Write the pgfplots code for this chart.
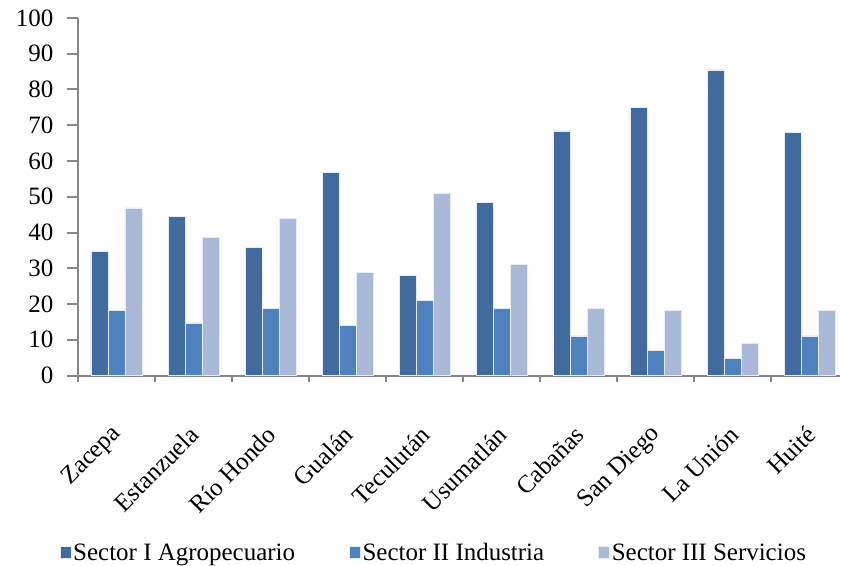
\documentclass[border=0pt]{standalone}
\usepackage{fontspec}
\setmainfont{Liberation Serif}
\usepackage{pgfplots}
\pgfplotsset{compat=1.18}

\definecolor{sectorI}{HTML}{416A9E}
\definecolor{sectorII}{HTML}{4F81BD}
\definecolor{sectorIII}{HTML}{AAB9D8}
\definecolor{axisgray}{HTML}{878787}

\begin{document}
\begin{tikzpicture}[font=\fontsize{25}{29}\selectfont]
\begin{axis}[
    scale only axis=true,
    width=763pt,
    height=358pt,
    ybar=0pt,
    bar width=17pt,
    ymin=0, ymax=100,
    ytick={0,10,...,100},
    xmin=-0.5, xmax=9.39,
    xtick={0,...,9},
    xticklabels={Zacepa, Estanzuela, Río Hondo, Gualán, Teculután, Usumatlán, Cabañas, San Diego, La Unión, Huité},
    minor xtick={-0.5,0.5,...,8.5},
    major x tick style={draw=none},
    axis x line*=bottom,
    axis y line*=left,
    axis line style={axisgray, line width=2pt, -},
    tick style={axisgray, line width=2pt},
    tick align=outside,
    major tick length=11pt,
    minor tick length=6pt,
    xticklabel style={rotate=45, anchor=east, yshift=-32pt, xshift=-27pt},
    yticklabel style={xshift=-10pt},
    /pgf/number format/assume math mode=true,
    clip=false,
    legend columns=3,
    legend style={at={(0.467,-0.495)}, anchor=center, draw=none,
        /tikz/every even column/.append style={column sep=52pt}},
    legend image code/.code={\fill[#1] (0pt,-6pt) rectangle (11pt,6pt);},
    every axis plot/.append style={draw=white!85!sectorII, line width=0.6pt},
]
\addplot[fill=sectorI] coordinates {
    (0,34.7) (1,44.4) (2,35.8) (3,56.8) (4,28.1) (5,48.5) (6,68.4) (7,74.9) (8,85.5) (9,67.9)};
\addplot[fill=sectorII] coordinates {
    (0,18.2) (1,14.7) (2,18.8) (3,14.1) (4,21.1) (5,18.8) (6,11.1) (7,7.0) (8,4.7) (9,11.1)};
\addplot[fill=sectorIII] coordinates {
    (0,46.9) (1,38.7) (2,43.9) (3,28.8) (4,50.9) (5,31.0) (6,18.8) (7,18.2) (8,8.9) (9,18.2)};
\legend{Sector I Agropecuario, Sector II Industria, Sector III Servicios}
\path (rel axis cs:0,0) ++(-78pt,-189pt) (rel axis cs:1,1) ++(0pt,18pt);
\end{axis}
\end{tikzpicture}
\end{document}
